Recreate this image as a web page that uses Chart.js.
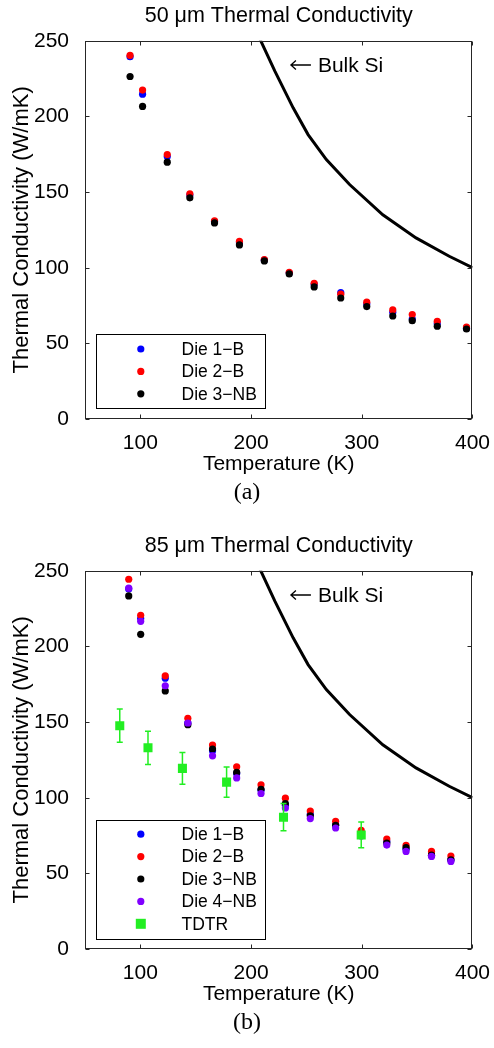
<!DOCTYPE html>
<html>
<head>
<meta charset="utf-8">
<script src="https://cdn.jsdelivr.net/npm/chart.js@4.4.1/dist/chart.umd.min.js"></script>
<style>
  body { margin: 0; background: #fff; }
  #page { position: relative; width: 494px; height: 1048px; }
  .box { position: absolute; left: 0; width: 494px; height: 480px; }
  .cap { position: absolute; left: 0; width: 494px; text-align: center; font-family: "Liberation Serif", "Times New Roman", serif; font-size: 24px; line-height: 28px; color: #000; }
</style>
</head>
<body>
<div id="page">
  <div class="box" style="top:0"><canvas id="chartA"></canvas></div>
  <div class="cap" style="top:477px">(a)</div>
  <div class="box" style="top:530px"><canvas id="chartB"></canvas></div>
  <div class="cap" style="top:1007px">(b)</div>
</div>
<script>
// (a) 50 um dies
const tempA = [90.7, 102, 124.3, 144.7, 167, 189.5, 212, 234.5, 257, 281, 304.5, 328, 345.6, 368.2, 394.6];
const die1A = [239.5, 214.7, 173.5, 148, 130.5, 116.5, 105, 96.5, 89, 83.5, 76, 70.6, 66.1, 63, 60];
const die2A = [240.3, 217.4, 174.8, 148.8, 131, 117.5, 105.4, 97, 89.7, 82.5, 77.2, 72.1, 69, 64.6, 60.8];
const die3A = [226.4, 206.6, 169.8, 146.2, 129.6, 115.1, 104.5, 95.9, 87.3, 80, 74.3, 68.1, 65, 61.3, 59.5];

// (b) 85 um dies
const tempB = [89.5, 100.3, 122.5, 142.9, 165.2, 187, 209, 231, 253.5, 276.4, 299.5, 322.6, 340, 363, 380.5];
const die1B = [238, 218.4, 179, 149.5, 131, 116, 105, 95, 89, 82, 75, 71, 66, 62, 59];
const die2B = [244.4, 220.6, 180.6, 152.5, 134.8, 120.4, 108.5, 99.7, 91.2, 84.4, 78.4, 72.7, 68.5, 64.5, 61.4];
const die3B = [233.4, 208, 170.6, 148.3, 132.2, 116.7, 105.6, 96.1, 88, 81.8, 75, 70, 67, 62, 59];
const die4B = [238.5, 216.6, 174, 149.4, 127.7, 113.1, 102.8, 93.2, 86.2, 80, 74.7, 68.7, 64.5, 61.2, 57.9];

// TDTR with error bars
const tempTDTR = [81.4, 106.9, 138, 177.9, 229.3, 299.5];
const kTDTR = [147.6, 133, 119.4, 110.3, 87.1, 75.4];
const errTDTR = [11, 11, 10.5, 10, 9, 8.5];

// bulk silicon reference curve
const bulkT = [205, 208.9, 221.5, 238, 251.5, 268, 289, 319, 349, 379, 400];
const bulkK = [256, 249.8, 230, 205.7, 188, 171.5, 155, 135, 119.7, 107.6, 100];

const xTicks = [100, 200, 300, 400];
const FONT = '"Liberation Sans", Arial, Helvetica, sans-serif';

const pts = (xs, ys) => xs.map((x, i) => ({ x, y: ys[i] }));

// box + inward tick marks like matlab
const framePlugin = {
  id: 'frame',
  afterDatasetsDraw(chart) {
    const { ctx, chartArea: a, scales: { x, y } } = chart;
    ctx.save();
    ctx.strokeStyle = '#262626';
    ctx.lineWidth = 1;
    const L = Math.round(a.left) + 0.5, R = Math.round(a.right) - 0.5;
    const T = Math.round(a.top) + 0.5, B = Math.round(a.bottom) - 0.5;
    ctx.strokeRect(L, T, R - L, B - T);
    ctx.beginPath();
    x.ticks.forEach(t => {
      const px = Math.round(x.getPixelForValue(t.value)) + 0.5;
      ctx.moveTo(px, B); ctx.lineTo(px, B - 4);
      ctx.moveTo(px, T); ctx.lineTo(px, T + 4);
    });
    y.ticks.forEach(t => {
      const py = Math.round(y.getPixelForValue(t.value)) + 0.5;
      ctx.moveTo(L, py); ctx.lineTo(L + 4, py);
      ctx.moveTo(R, py); ctx.lineTo(R - 4, py);
    });
    ctx.stroke();

    // bulk si label with a long thin arrow
    const ax = x.getPixelForValue(236), ay = y.getPixelForValue(234);
    ctx.strokeStyle = '#000';
    ctx.lineWidth = 1.3;
    ctx.beginPath();
    ctx.moveTo(ax + 20, ay); ctx.lineTo(ax, ay);
    ctx.moveTo(ax + 5, ay - 4.5); ctx.lineTo(ax, ay); ctx.lineTo(ax + 5, ay + 4.5);
    ctx.stroke();
    ctx.fillStyle = '#000';
    ctx.font = '21px ' + FONT;
    ctx.textAlign = 'left';
    ctx.textBaseline = 'middle';
    ctx.fillText('Bulk Si', ax + 27, ay + 1);
    ctx.restore();
  },
  afterDraw(chart) {
    // legend box at lower left
    const { ctx, chartArea: a } = chart;
    const items = chart.data.datasets.filter(d => d.inLegend);
    const rowH = 22.4;
    const h = items.length * rowH + 7;
    const left = a.left + 10.5, bottom = a.bottom - 10.5, top = bottom - h;
    ctx.save();
    ctx.fillStyle = '#fff';
    ctx.fillRect(left, top, 169.5, h);
    ctx.strokeStyle = '#000';
    ctx.lineWidth = 1;
    ctx.strokeRect(Math.round(left) + 0.5, Math.round(top) + 0.5, 169, Math.round(h));
    ctx.font = '17.5px ' + FONT;
    ctx.textBaseline = 'middle';
    ctx.textAlign = 'left';
    items.forEach((d, i) => {
      const cy = top + 3.5 + rowH / 2 + i * rowH;
      const cx = left + 45.3;
      ctx.fillStyle = d.backgroundColor;
      if (d.pointStyle === 'rect') {
        ctx.fillRect(cx - 5, cy - 5, 10, 10);
      } else {
        ctx.beginPath();
        ctx.arc(cx, cy, 3.6, 0, Math.PI * 2);
        ctx.fill();
      }
      ctx.fillStyle = '#000';
      ctx.fillText(d.label, left + 86, cy + 1);
    });
    ctx.restore();
  }
};

// vertical error bars under the TDTR squares
const errorBarPlugin = {
  id: 'errorBars',
  beforeDatasetDraw(chart, args) {
    const ds = chart.data.datasets[args.index];
    if (!ds.errors) return;
    const { ctx, scales: { x, y } } = chart;
    ctx.save();
    ctx.strokeStyle = ds.borderColor;
    ctx.lineWidth = 1.5;
    ctx.beginPath();
    ds.data.forEach((p, i) => {
      const px = x.getPixelForValue(p.x);
      const top = y.getPixelForValue(p.y + ds.errors[i]);
      const bot = y.getPixelForValue(p.y - ds.errors[i]);
      ctx.moveTo(px, top); ctx.lineTo(px, bot);
      ctx.moveTo(px - 3, top); ctx.lineTo(px + 3, top);
      ctx.moveTo(px - 3, bot); ctx.lineTo(px + 3, bot);
    });
    ctx.stroke();
    ctx.restore();
  }
};

function dotSet(label, temps, vals, color, i) {
  return {
    label, inLegend: true,
    data: pts(temps, vals),
    backgroundColor: color, borderColor: color,
    pointRadius: 3.6, pointHoverRadius: 3.6, pointBorderWidth: 0,
    showLine: false, order: 20 - i
  };
}

function makeChart(id, title, dots, withTDTR) {
  const datasets = [{
    label: 'Bulk Si', inLegend: false,
    data: pts(bulkT, bulkK),
    borderColor: '#000', backgroundColor: '#000',
    borderWidth: 3, pointRadius: 0, showLine: true, tension: 0, order: 30
  }];
  dots.forEach((d, i) => datasets.push(dotSet(d[0], d[1], d[2], d[3], i)));
  if (withTDTR) {
    datasets.push({
      label: 'TDTR', inLegend: true,
      data: pts(tempTDTR, kTDTR), errors: errTDTR,
      pointStyle: 'rect', backgroundColor: '#22ee22', borderColor: '#22ee22',
      pointRadius: 6.4, pointHoverRadius: 6.4, pointBorderWidth: 0,
      showLine: false, order: 0
    });
  }

  new Chart(document.getElementById(id), {
    type: 'scatter',
    data: { datasets },
    plugins: [framePlugin, errorBarPlugin],
    options: {
      responsive: true,
      maintainAspectRatio: false,
      animation: false,
      layout: { padding: { left: 0, right: 21, top: 0, bottom: 0 } },
      plugins: {
        legend: { display: false },
        tooltip: { enabled: false },
        title: {
          display: true, text: title, color: '#000', fullSize: false,
          font: { family: FONT, size: 21.5, weight: 'normal' },
          padding: { top: 3, bottom: 12 }
        }
      },
      scales: {
        x: {
          type: 'linear', min: 50, max: 400,
          afterBuildTicks: axis => { axis.ticks = xTicks.map(v => ({ value: v })); },
          afterFit: s => { s.height = 61; },
          grid: { display: false },
          border: { display: false },
          ticks: { color: '#000', padding: 4, maxRotation: 0, autoSkip: false, font: { family: FONT, size: 21 } },
          title: { display: true, text: 'Temperature (K)', color: '#000', font: { family: FONT, size: 21 }, padding: { top: 0, bottom: 3.4 } }
        },
        y: {
          min: 0, max: 250,
          ticks: { stepSize: 50, color: '#000', padding: 8, font: { family: FONT, size: 21 } },
          afterFit: s => { s.width = 85; },
          grid: { display: false },
          border: { display: false },
          title: { display: true, text: 'Thermal Conductivity (W/mK)', color: '#000', font: { family: FONT, size: 22 }, padding: { top: 9, bottom: 0 } }
        }
      }
    }
  });
}

makeChart('chartA', '50 \u03bcm Thermal Conductivity', [
  ['Die 1\u2212B', tempA, die1A, '#0000ff'],
  ['Die 2\u2212B', tempA, die2A, '#ff0000'],
  ['Die 3\u2212NB', tempA, die3A, '#000000']
], false);

makeChart('chartB', '85 \u03bcm Thermal Conductivity', [
  ['Die 1\u2212B', tempB, die1B, '#0000ff'],
  ['Die 2\u2212B', tempB, die2B, '#ff0000'],
  ['Die 3\u2212NB', tempB, die3B, '#000000'],
  ['Die 4\u2212NB', tempB, die4B, '#8000ff']
], true);
</script>
</body>
</html>
